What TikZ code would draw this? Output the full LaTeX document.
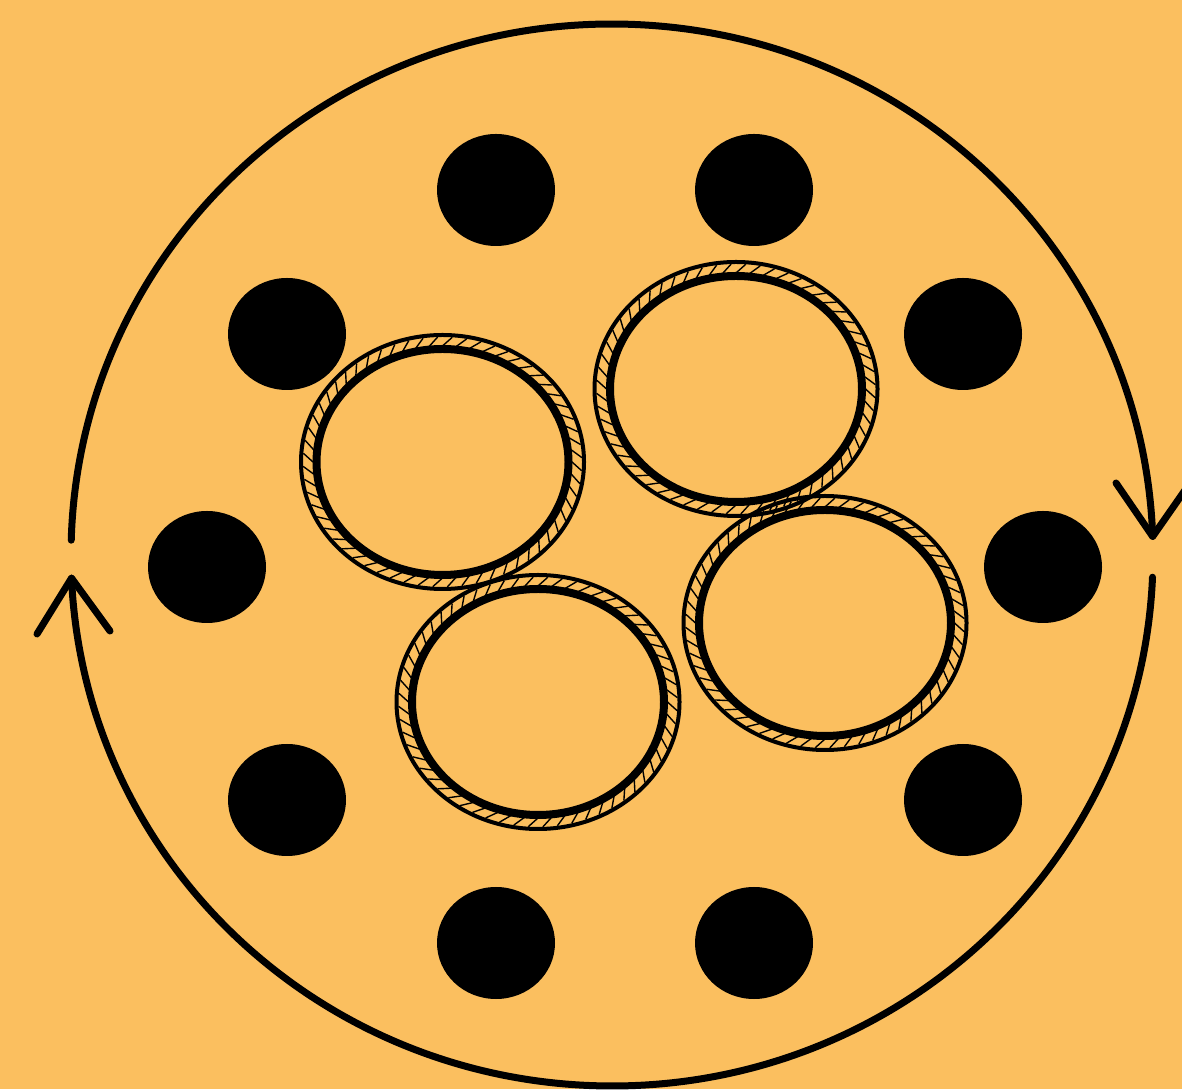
\documentclass[tikz,border=0pt]{standalone}
\usetikzlibrary{calc}
\definecolor{bgorange}{HTML}{FBBF5F}
\tikzset{
  bigarc/.style={line width=7pt, line cap=round, line join=round},
  dot/.style={fill=black},
  ringouter/.style={line width=4pt},
  ringinner/.style={line width=8pt},
  ringtick/.style={line width=1.4pt},
}
\newcommand\ropering[2]{%
  \begin{scope}[shift={(#1pt,#2pt)}]
    \foreach \i in {0,...,59}{
      \pgfmathsetmacro\angA{\i*6}
      \pgfmathsetmacro\angB{\angA-4}
      \pgfmathsetmacro\xa{139.5*cos(\angB)}
      \pgfmathsetmacro\ya{125*sin(\angB)}
      \pgfmathsetmacro\xb{129.5*cos(\angA)}
      \pgfmathsetmacro\yb{116*sin(\angA)}
      \draw[ringtick] (\xa pt,\ya pt) -- (\xb pt,\yb pt);
    }
    \draw[ringouter] (0,0) ellipse[x radius=141.5pt, y radius=127pt];
    \draw[ringinner] (0,0) ellipse[x radius=126pt, y radius=113pt];
  \end{scope}}
\begin{document}
\begin{tikzpicture}[x=1pt,y=1pt]
\fill[bgorange] (0,0) rectangle (1182,1089);
\useasboundingbox (0,0) rectangle (1182,1089);
\begin{scope}
\clip (0,0) rectangle (1182,1089);
% big circle arcs
\coordinate (C) at (612,534);
\draw[bigarc] ($(C)+({541*cos(178.4)},{531*sin(178.4)})$) arc[start angle=178.4, end angle=2, x radius=541, y radius=531] coordinate (tipR);
\draw[bigarc] ($(C)+({541*cos(-2.4)},{531*sin(-2.4)})$) arc[start angle=-2.4, end angle=-177.5, x radius=541, y radius=531] coordinate (tipL);
% arrowheads
\draw[bigarc] (1116,606) -- (tipR) -- (1190,606);
\draw[bigarc] (37,455) -- (tipL) -- (110,458);
% dots
\foreach \x/\y in {496/190, 754/190, 287/334, 963/334, 207/567, 1043/567, 287/800, 963/800, 496/943, 754/943}{
  \fill[dot] (\x,1089-\y) ellipse[x radius=59, y radius=56];
}
\end{scope}
% rope rings
\ropering{442.5}{627}
\ropering{736}{700}
\ropering{538}{387}
\ropering{825}{466}
\end{tikzpicture}
\end{document}
